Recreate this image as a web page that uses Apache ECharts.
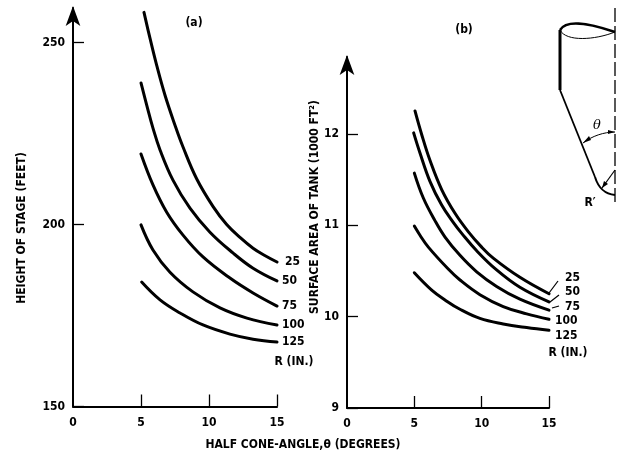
<!DOCTYPE html>
<html><head><meta charset="utf-8">
<style>html,body{margin:0;padding:0;background:#fff}#c{width:618px;height:453px}</style>
<script src="https://cdn.jsdelivr.net/npm/echarts@6/dist/echarts.min.js"></script>
</head><body><div id="c"></div>
<script>
const xTicks = [0, 5, 10, 15];
const yTicksA = [150, 200, 250];
const yTicksB = [9, 10, 11, 12];
const radii = ['25', '50', '75', '100', '125'];

const a25 = [[5.22,258.3],[5.66,251.2],[6.15,243.8],[6.76,235.6],[7.5,227.3],[8.09,221.3],[9.1,212.5],[10.29,205],[11.3,200],[12.3,196.4],[13.24,193.5],[14.1,191.5],[15,189.7]];
const a50 = [[5,238.9],[5.42,232.8],[5.88,226.5],[6.4,220.5],[7.35,212.2],[8.6,204.5],[10.07,197.9],[11.76,192.2],[13.24,188],[15,184.5]];
const a75 = [[5,219.4],[5.88,210.9],[6.89,203.4],[8.09,197.1],[9.56,191.1],[11.54,185.3],[13.24,181.2],[15,177.6]];
const a100 = [[5,199.9],[5.88,193],[7.13,186.9],[8.82,181.5],[10.81,177.1],[12.79,174.3],[15,172.4]];
const a125 = [[5.05,184.2],[6.4,179.3],[7.87,175.7],[9.56,172.4],[11.54,169.9],[13.24,168.5],[15,167.7]];

const b25 = [[5.05,12.25],[5.55,11.99],[6.16,11.71],[7.03,11.39],[8.02,11.13],[9,10.93],[10,10.76],[10.86,10.64],[12.84,10.43],[15,10.25]];
const b50 = [[4.95,12.01],[5.42,11.79],[6.16,11.48],[7.03,11.22],[7.89,11.03],[8.52,10.91],[9.63,10.72],[11.11,10.51],[12.84,10.32],[15,10.16]];
const b75 = [[5,11.57],[5.66,11.3],[6.53,11.05],[7.28,10.87],[8.39,10.67],[9.63,10.49],[11.11,10.33],[12.84,10.19],[15,10.07]];
const b100 = [[5,10.99],[5.42,10.89],[6.04,10.76],[7.52,10.52],[8.39,10.4],[9.87,10.24],[11.6,10.11],[13.34,10.03],[15,9.97]];
const b125 = [[5,10.48],[6.29,10.29],[7.3,10.18],[8.39,10.08],[9.87,9.98],[11.6,9.92],[13.34,9.88],[15,9.85]];

const font = '"DejaVu Sans Condensed","Liberation Sans",sans-serif';
const ink = '#000';
const chart = echarts.init(document.getElementById('c'), null, {renderer:'canvas'});

function xAxis(i){ return {
  type:'value', gridIndex:i, min:0, max:15, interval:5,
  splitLine:{show:false},
  axisLine:{lineStyle:{color:ink,width:2}},
  axisTick:{inside:true,length:12,customValues:xTicks.slice(1),lineStyle:{color:ink,width:1.3}},
  axisLabel:{color:ink,fontFamily:font,fontSize:12,fontWeight:'bold',margin:10,customValues:xTicks}
};}
function yAxis(i,min,max,ticks){ return {
  type:'value', gridIndex:i, min, max,
  splitLine:{show:false},
  axisLine:{show:true,symbol:['none','arrow'],symbolSize:[11,20],symbolOffset:[0,2],lineStyle:{color:ink,width:2}},
  axisTick:{show:true,inside:true,length:11,customValues:ticks,lineStyle:{color:ink,width:1.3}},
  axisLabel:{color:ink,fontFamily:font,fontSize:12,fontWeight:'bold',margin:8,customValues:ticks}
};}
function curve(name,data,idx,off){ return {
  type:'line', name, data, xAxisIndex:idx, yAxisIndex:idx, smooth:0.4, symbol:'none', clip:false,
  lineStyle:{color:ink,width:3,cap:'round'},
  endLabel:{show:true,formatter:'{a}',color:ink,fontFamily:font,fontSize:12,fontWeight:'bold',offset:off,distance:0}
};}
function txt(x,y,text,extra){ return {
  type:'text', x, y, style:Object.assign({text,fill:ink,font:'bold 12px '+font,align:'center',verticalAlign:'middle'},extra||{})
}; }
function line(pts,w,dash){ return {type:'polyline',shape:{points:pts},
  style:{stroke:ink,lineWidth:w,fill:null,lineDash:dash||null}}; }
function bez(x1,y1,cx1,cy1,cx2,cy2,x2,y2,w){ return {type:'bezierCurve',
  shape:{x1,y1,cpx1:cx1,cpy1:cy1,cpx2:cx2,cpy2:cy2,x2,y2},style:{stroke:ink,lineWidth:w,fill:null}}; }
function head(pts){ return {type:'polygon',shape:{points:pts},style:{fill:ink}}; }

chart.setOption({
  animation:false,
  backgroundColor:'#fff',
  grid:[
    {left:73,top:8,width:204,height:398.5},
    {left:347,top:57,width:202,height:351}
  ],
  xAxis:[xAxis(0),xAxis(1)],
  yAxis:[yAxis(0,150,259.5,yTicksA),yAxis(1,9,12.84,yTicksB)],
  series:[
    curve(radii[0],a25,0,[8,0]),
    curve(radii[1],a50,0,[5,0]),
    curve(radii[2],a75,0,[5,0]),
    curve(radii[3],a100,0,[5,0]),
    curve(radii[4],a125,0,[5,0]),
    curve(radii[0],b25,1,[16,-16]),
    curve(radii[1],b50,1,[16,-10]),
    curve(radii[2],b75,1,[16,-3]),
    curve(radii[3],b100,1,[6,2]),
    curve(radii[4],b125,1,[6,6])
  ],
  graphic:{elements:[
    txt(194,23,'(a)'),
    txt(464,30,'(b)'),
    {type:'text',x:22,y:228,rotation:Math.PI/2,style:{text:'HEIGHT OF STAGE (FEET)',fill:ink,font:'bold 12px '+font,align:'center',verticalAlign:'middle'}},
    {type:'text',x:315,y:207,rotation:Math.PI/2,style:{text:'SURFACE AREA OF TANK (1000 FT\u00B2)',fill:ink,font:'bold 12px '+font,align:'center',verticalAlign:'middle'}},
    txt(303,445,'HALF CONE-ANGLE,\u03B8 (DEGREES)',{font:'bold 12px '+font}),
    txt(294,362,'R (IN.)'),
    txt(568,353,'R (IN.)'),
    line([[549,293],[558,281]],1.2),
    line([[550,302],[559,295]],1.2),
    line([[552,308],[559,306]],1.2),
    // tank sketch
    line([[615,8],[615,204]],1.3,[14,4]),
    line([[560,30],[560,90]],3),
    line([[560,90],[595,177]],1.8),
    bez(560,30,566,20,585,22,615,32,2.5),
    bez(560,30,566,42,595,40,615,32,1),
    bez(595,177,599,190,606,194,615,195,2),
    bez(583,143,592,136,604,132,615,132,1),
    head([[583,143],[589,136],[591,140]]),
    head([[615,132],[608,130],[608,134]]),
    line([[602,188],[615,170]],1.2),
    head([[602,188],[604,181],[608,184]]),
    txt(597,126,'\u03B8',{font:'italic 13px "DejaVu Serif",serif'}),
    txt(590,203,"R\u2032",{font:'bold 12px '+font})
  ]}
});
</script></body></html>
